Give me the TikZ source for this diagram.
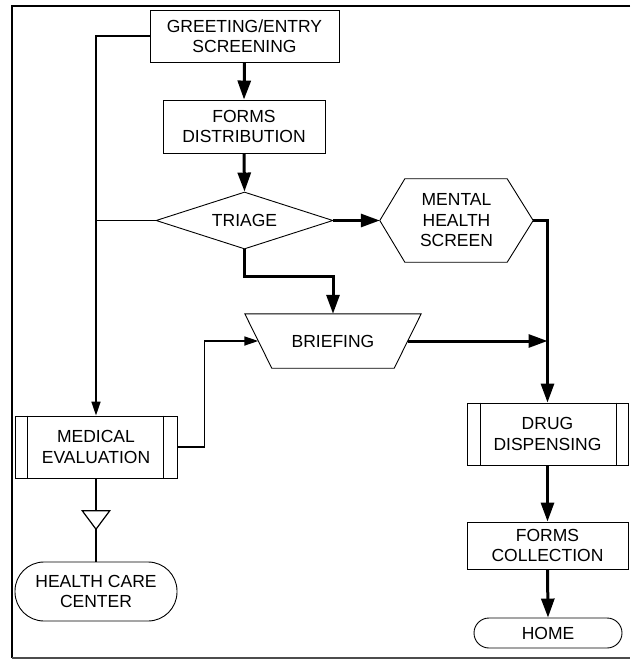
\documentclass[tikz,border=0pt]{standalone}
\usepackage{fontspec}
\setmainfont{Liberation Sans}
\usetikzlibrary{arrows.meta,shapes.geometric,calc}
\begin{document}
\begin{tikzpicture}[x=1pt,y=-1pt,
  txt/.style={inner sep=0pt, align=center, font=\fontsize{17.5}{20.5}\selectfont},
  box/.style={txt, draw, line width=0.9pt, rectangle},
  dia/.style={txt, draw, line width=0.9pt, diamond, aspect=3},
  ghost/.style={txt, rectangle},
  outline/.style={draw, line width=0.9pt},
  flow/.style={line width=3pt, -{Triangle[length=19pt,width=13pt]}},
  flowline/.style={line width=3pt},
  thinflow/.style={line width=1.7pt, -{Triangle[length=14pt,width=9pt]}},
  thinline/.style={line width=1.7pt},
]
\useasboundingbox (0,0) rectangle (630,660);
% frame
\draw[line width=2pt] (630,6) -- (12,6) -- (12,658);
\draw[line width=1.2pt, black!70] (12,658) -- (630,658);

% nodes
\node[box, minimum width=189pt, minimum height=52pt] (greet) at (244.5,36) {GREETING/ENTRY\\SCREENING};
\node[box, minimum width=162pt, minimum height=53pt] (forms) at (244,126.5) {FORMS\\DISTRIBUTION};
\node[dia, minimum width=177pt, minimum height=57pt] (triage) at (244.5,220.5) {TRIAGE};
\node[ghost, minimum width=153pt, minimum height=83pt] (hex) at (456.5,220.5) {MENTAL\\HEALTH\\SCREEN};
\node[ghost, minimum width=176pt, minimum height=54pt] (brief) at (333,341) {BRIEFING};
\node[box, minimum width=162pt, minimum height=62pt] (med) at (96,447) {MEDICAL\\EVALUATION};
\node[box, rounded corners=29pt, minimum width=162pt, minimum height=59pt] (hcc) at (96,591.5) {HEALTH CARE\\CENTER};
\node[inner sep=0pt, minimum width=27pt, minimum height=18pt] (tri) at (96,520) {};
\node[box, minimum width=161pt, minimum height=62pt] (drug) at (547.5,434) {DRUG\\DISPENSING};
\node[box, minimum width=161pt, minimum height=47pt] (fcol) at (547.5,545.5) {FORMS\\COLLECTION};
\node[box, rounded corners=15pt, minimum width=148pt, minimum height=30pt] (home) at (548,633) {HOME};

% custom outlines
\draw[outline] ($(hex.north west)+(25,0)$) -- ($(hex.north east)+(-26,0)$) -- (hex.east)
  -- ($(hex.south east)+(-26,0)$) -- ($(hex.south west)+(25,0)$) -- (hex.west) -- cycle;
\draw[outline] (brief.north west) -- (brief.north east) -- ($(brief.south east)+(-27,0)$)
  -- ($(brief.south west)+(27,0)$) -- cycle;
\draw[outline] ($(med.north west)+(13,0)$) -- ($(med.south west)+(13,0)$);
\draw[outline] ($(med.north east)+(-14,0)$) -- ($(med.south east)+(-14,0)$);
\draw[outline] ($(drug.north west)+(14,0)$) -- ($(drug.south west)+(14,0)$);
\draw[outline] ($(drug.north east)+(-12,0)$) -- ($(drug.south east)+(-12,0)$);
\draw[line width=1.2pt] (tri.north west) -- (tri.north east) -- (tri.south) -- cycle;

\coordinate (brw) at ($(brief.west)+(13.5,0)$);
\coordinate (bre) at ($(brief.east)+(-13.5,0)$);

% main flow
\draw[flow] (greet.south) -- (forms.north);
\draw[flow] (forms.south) -- (triage.north);
\draw[flow] (triage.east) -- (hex.west);
\draw[flow] (triage.south) -- ++(0,27) -| (brief.north);
\draw[flow] (hex.east) -| (drug.north);
\draw[flow] (bre) -- (bre -| drug.north);
\draw[flow] (drug.south) -- (fcol.north);
\draw[flow] (fcol.south) -- (home.north);

% thin branch
\draw[thinflow] (greet.west) -| (med.north);
\draw[thinline] (triage.west) -- (triage.west -| med.north);
\draw[thinflow] (med.east) -- ++(27,0) |- (brw);
\draw[thinline] (med.south) -- (tri.north);
\draw[thinline] (tri.south) -- (hcc.north);
\end{tikzpicture}
\end{document}
